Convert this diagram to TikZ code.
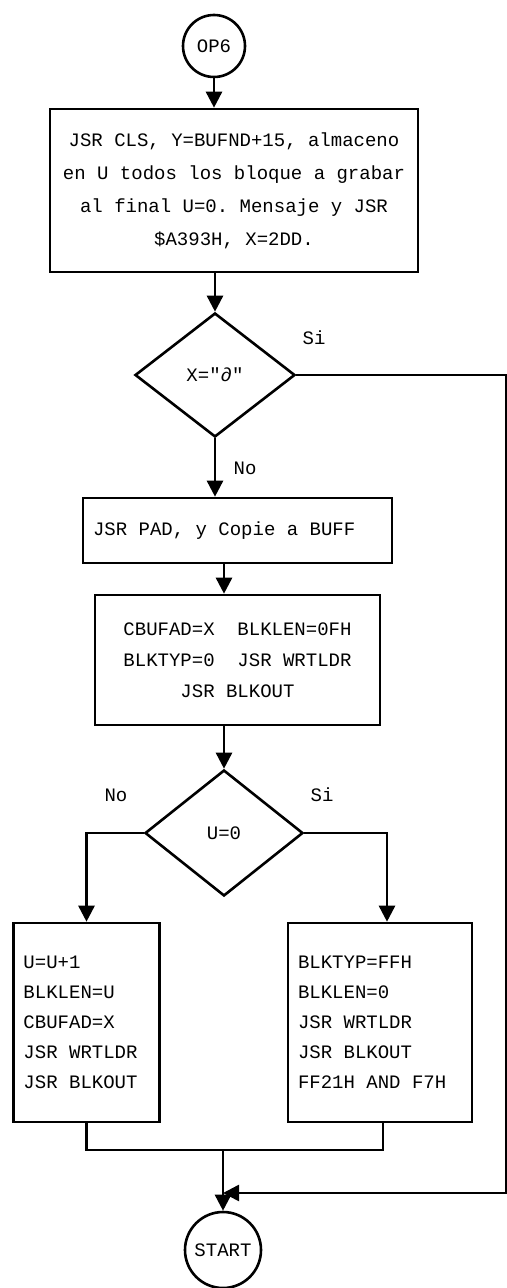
\documentclass[tikz,border=0pt]{standalone}
\usepackage{fontspec}
\setmonofont{Liberation Mono}
\usetikzlibrary{shapes.geometric,arrows.meta}

\tikzset{
  box/.style={draw,rectangle,line width=1.3pt,align=center,inner sep=5pt},
  cond/.style={draw,diamond,line width=1.3pt,inner sep=0pt,aspect=1.3},
  term/.style={draw,circle,line width=1.3pt,inner sep=0pt},
  flow/.style={line width=1.3pt,-{Stealth[inset=0pt,length=8pt,width=8pt]}},
  wire/.style={line width=1.3pt},
}

\begin{document}
\begin{tikzpicture}[x=0.5pt,y=-0.5pt,font=\ttfamily\fontsize{9.5}{16.5}\selectfont]
			\useasboundingbox (0,0) rectangle (507,1288);
			% nodes, placed at image coordinates
			\node[term,minimum size=31pt] (op6) at (214,46) {OP6};
			\node[box,minimum width=184pt,minimum height=81.5pt] (b1) at (234,190.5)
				{JSR CLS, Y=BUFND+15, almaceno\\en U todos los bloque a grabar\\al final U=0. Mensaje y JSR\\\$A393H, X=2DD.};
			\node[cond,minimum width=80pt,minimum height=62pt] (d1) at (215,375) {X="∂"};
			\node[box,align=flush left,text width=144.5pt,minimum height=32.5pt] (b2) at (237.5,530.5) {JSR PAD, y Copie a BUFF};
			\node[box,minimum width=142.5pt,minimum height=65pt,font=\ttfamily\fontsize{9.5}{15.5}\selectfont] (b3) at (237.5,660)
				{CBUFAD=X~~BLKLEN=0FH\\BLKTYP=0~~JSR WRTLDR\\JSR BLKOUT};
			\node[cond,minimum width=79pt,minimum height=63pt] (d2) at (224,833) {U=0};
			\node[box,align=flush left,text width=63pt,minimum height=99.5pt,font=\ttfamily\fontsize{9.5}{15}\selectfont] (b4) at (86.5,1022.5)
				{U=U+1\\BLKLEN=U\\CBUFAD=X\\JSR WRTLDR\\JSR BLKOUT};
			\node[box,align=flush left,text width=82pt,minimum height=99.5pt,font=\ttfamily\fontsize{9.5}{15}\selectfont] (b5) at (380,1022.5)
				{BLKTYP=FFH\\BLKLEN=0\\JSR WRTLDR\\JSR BLKOUT\\FF21H AND F7H};
			\node[term,minimum size=38pt] (start) at (223,1250) {START};
			% labels
			\node (si1) at (314,338) {Si};
			\node (no1) at (245,468) {No};
			\node (no2) at (116,795) {No};
			\node (si2) at (322,795) {Si};
			% helper points
			\coordinate (merge) at (223,1150);
			\coordinate (loopR) at (506,1193);
			\coordinate (join) at (223,1193);
			% connectors
			\draw[flow] (op6) -- (op6 |- b1.north);
			\draw[flow] (d1 |- b1.south) -- (d1.north);
			\draw[flow] (d1.south) -- (d1 |- b2.north);
			\draw[flow] (d2 |- b2.south) -- (d2 |- b3.north);
			\draw[flow] (d2 |- b3.south) -- (d2.north);
			\draw[flow] (d2.west) -| (b4.north);
			\draw[flow] (d2.east) -| ([xshift=3.5pt]b5.north);
			\draw[wire] (b4.south) |- (merge) -| ([xshift=1.5pt]b5.south);
			\draw[flow] (merge) -- (start.north);
			\draw[flow] (d1.east) -| (loopR) -- (join);
		\end{tikzpicture}
\end{document}
